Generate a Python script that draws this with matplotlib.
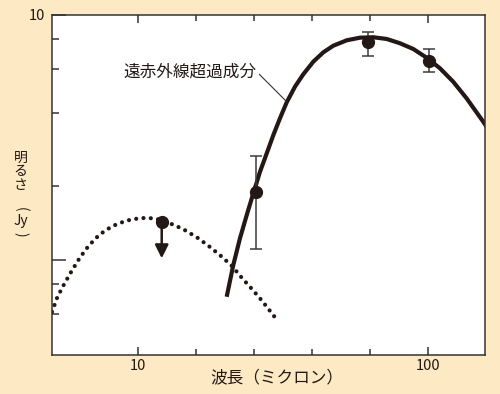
import matplotlib
matplotlib.use('Agg')
import matplotlib.pyplot as plt
from matplotlib.ticker import FixedLocator, NullFormatter

plt.rcParams['font.family'] = ['Noto Sans CJK JP', 'DejaVu Sans']

# 遠赤外線超過成分（実線）
fit_wl = [20.22, 21.31, 22.47, 23.71, 24.98, 26.35, 27.79, 29.29, 30.88, 32.57,
          34.78, 37.15, 40.23, 43.55, 47.14, 52.46, 58.29, 64.79, 72.06, 80.08,
          89.0, 98.97, 110.0, 122.2, 135.9, 155.1, 163.6]
fit_flux = [0.708, 0.954, 1.226, 1.526, 1.872, 2.293, 2.725, 3.236, 3.790, 4.402,
            5.098, 5.727, 6.449, 7.041, 7.492, 7.884, 8.081, 8.112, 7.983, 7.667,
            7.265, 6.694, 6.060, 5.341, 4.571, 3.668, 3.331]

# 点線のモデル
star_wl = [5.05, 5.27, 5.57, 5.91, 6.30, 6.76, 7.36, 8.12, 9.09, 10.18, 11.42,
           12.69, 14.3, 16.1, 17.71, 19.33, 21.09, 22.84, 24.72, 26.77, 29.9]
star_flux = [0.614, 0.706, 0.800, 0.904, 1.022, 1.144, 1.269, 1.372, 1.447, 1.484,
             1.480, 1.423, 1.338, 1.229, 1.130, 1.038, 0.945, 0.844, 0.761, 0.682, 0.577]

# 観測点
obs_wl = [25.5, 62.3, 100.7]
obs_flux = [1.889, 7.74, 6.51]
obs_hi = [2.665, 8.55, 7.24]
obs_lo = [1.106, 6.80, 5.87]

# 上限値
lim_wl = 12.07
lim_flux = 1.434
lim_tip = 1.016

x_major = [10, 100]
x_major_labels = ['10', '100']
x_minor = [15.85, 25.12, 39.81, 63.10]
y_major = [1, 10]
y_major_labels = ['', '10']
y_minor = [0.6, 0.8, 2, 4, 6, 8]

ink = '#231815'
bg = '#fde9c4'

fig = plt.figure(figsize=(5, 3.94), dpi=100, facecolor=bg)
ax = fig.add_axes([52 / 500, 39 / 394, 433 / 500, 340 / 394])
ax.set_facecolor('white')
ax.set_xscale('log')
ax.set_yscale('log')
ax.set_xlim(5.05, 157.3)
ax.set_ylim(0.4096, 10)

ax.plot(star_wl, star_flux, color=ink, lw=3.0, linestyle=(0, (0.01, 1.75)),
        dash_capstyle='round')
ax.plot(fit_wl, fit_flux, color=ink, lw=3.0, solid_joinstyle='round',
        solid_capstyle='butt')

yerr = [[f - l for f, l in zip(obs_flux, obs_lo)],
        [h - f for f, h in zip(obs_flux, obs_hi)]]
ax.errorbar(obs_wl, obs_flux, yerr=yerr, fmt='o', ms=8.5, color=ink,
            ecolor='#3c3c3c', elinewidth=1.1, capsize=4, capthick=1.1, zorder=4)

ax.plot([lim_wl], [lim_flux], 'o', ms=8.5, color=ink, zorder=4)
ax.annotate('', xy=(lim_wl, lim_tip), xytext=(lim_wl, lim_flux),
            arrowprops=dict(arrowstyle='-|>', lw=1.8, color=ink,
                            mutation_scale=20, shrinkA=0, shrinkB=0))

# 注記
ax.text(256, 322, '遠赤外線超過成分', transform=None, fontsize=12,
        ha='right', va='center', color=ink)
ax.annotate('', xy=(32.51, 4.436), xytext=(259.3, 319.7), textcoords='figure pixels',
            arrowprops=dict(arrowstyle='-', lw=0.8, color='#333333',
                            shrinkA=0, shrinkB=0))

ax.xaxis.set_major_locator(FixedLocator(x_major))
ax.set_xticklabels(x_major_labels)
ax.xaxis.set_minor_locator(FixedLocator(x_minor))
ax.xaxis.set_minor_formatter(NullFormatter())
ax.yaxis.set_major_locator(FixedLocator(y_major))
ax.set_yticklabels(y_major_labels)
ax.yaxis.set_minor_locator(FixedLocator(y_minor))
ax.yaxis.set_minor_formatter(NullFormatter())

ax.tick_params(which='both', direction='in', top=True, right=False,
               color='#333333', width=1.1, labelsize=10.5, labelcolor=ink)
ax.tick_params(axis='x', which='major', length=5.8, pad=3)
ax.tick_params(axis='x', which='minor', length=4.5)
ax.tick_params(axis='y', which='major', length=10, pad=5)
ax.tick_params(axis='y', which='minor', length=5)
for s in ax.spines.values():
    s.set_color('#333333')
    s.set_linewidth(1.1)

fig.text(276.5 / 500, 1 - 378 / 394, '波長（ミクロン）', fontsize=12,
         ha='center', va='center', color=ink)

# 縦書きの軸ラベル（括弧は回転して横向きに）
ylab = [('明', 158, 0), ('る', 171, 0), ('さ', 185, 0),
        ('(', 209, -90), ('Jy', 221, 0), (')', 234, -90)]
for ch, yy, rot in ylab:
    fig.text(20.5 / 500, 1 - yy / 394, ch, fontsize=10, ha='center', va='center',
             rotation=rot, color=ink)

plt.savefig('out.png', dpi=100, facecolor=bg)
